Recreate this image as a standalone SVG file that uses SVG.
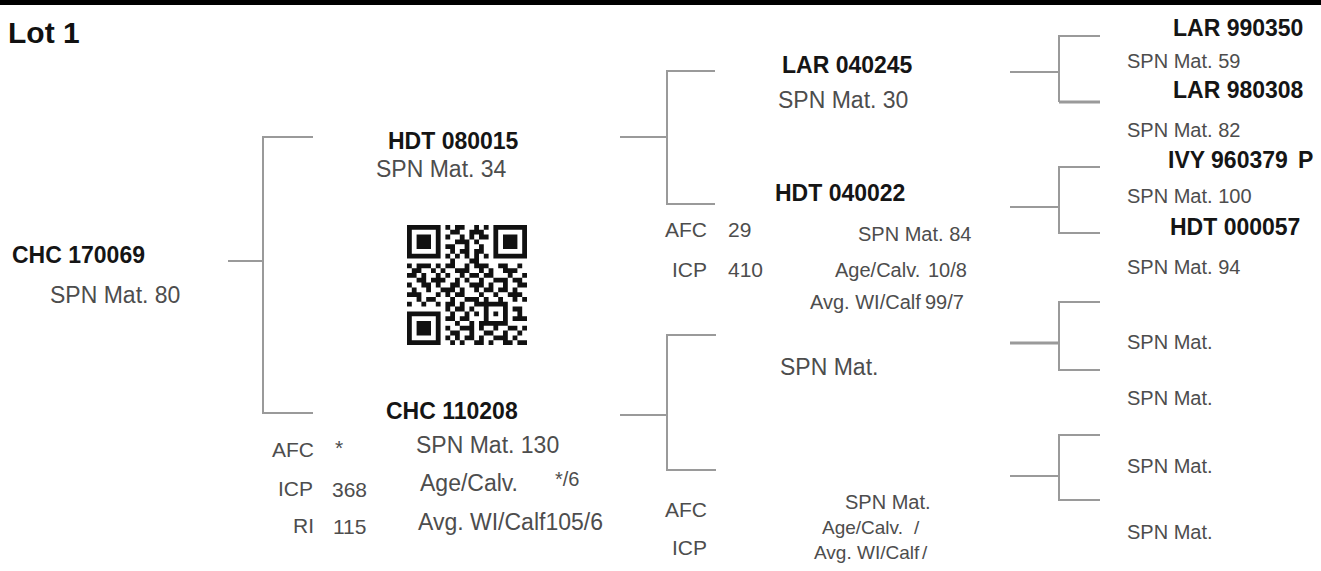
<svg xmlns="http://www.w3.org/2000/svg" width="1321" height="571" viewBox="0 0 1321 571">
<style>
.id{font-family:"Liberation Sans",Arial,sans-serif;font-weight:bold;font-size:23px;fill:#151515}
.t{font-family:"Liberation Sans",Arial,sans-serif;font-size:20px;fill:#4d4d4d}
.tm{font-family:"Liberation Sans",Arial,sans-serif;font-size:21px;fill:#4d4d4d}
.tl{font-family:"Liberation Sans",Arial,sans-serif;font-size:23px;fill:#4d4d4d}
.ts{font-family:"Liberation Sans",Arial,sans-serif;font-size:19px;fill:#4d4d4d}
.ln{stroke:#9a9a9a;stroke-width:2;fill:none}
.stub{stroke:#9a9a9a;stroke-width:3;fill:none}
</style>
<defs>
<path id="finder" d="M0 0h7v7h-7z M1 1v5h5v-5z M2 2h3v3h-3z" fill-rule="evenodd"/>
</defs>
<rect x="0" y="0" width="1321" height="5" fill="#000"/>
<text x="8" y="43" style="font-family:'Liberation Sans',Arial,sans-serif;font-weight:bold;font-size:30px;fill:#111">Lot 1</text>
<g id="connectors">
<path class="ln" d="M228 261H263 M313 137H263V413H313"/>
<path class="ln" d="M620 137H667 M715 71H667V204H715"/>
<path class="ln" d="M620 415H667 M716 335H667V470H716"/>
<path class="ln" d="M1010 72H1059 M1100 36H1059V102"/>
<path class="stub" d="M1059 102H1100"/>
<path class="ln" d="M1010 207H1059 M1100 167H1059V233H1100"/>
<path class="stub" d="M1010 343H1059"/>
<path class="ln" d="M1100 302H1059V370H1100"/>
<path class="ln" d="M1010 476H1059 M1100 435H1059V500H1100"/>
</g>
<g id="n-chc170069">
<text class="id" x="12" y="263">CHC 170069</text>
<text class="tl" x="50" y="303">SPN Mat. 80</text>
</g>
<g id="n-hdt080015">
<text class="id" x="388" y="149">HDT 080015</text>
<text class="tl" x="376" y="177">SPN Mat. 34</text>
</g>
<g id="qr" transform="translate(407,225) scale(4.8)" fill="#111">
<use href="#finder" x="0" y="0"/>
<use href="#finder" x="18" y="0"/>
<use href="#finder" x="0" y="18"/>
<path d="M8 0h1v1h-1z M10 0h2v1h-2z M14 0h1v1h-1z M16 0h1v1h-1z
M9 1h2v1h-2z M13 1h3v1h-3z
M8 2h1v1h-1z M11 2h1v1h-1z M13 2h1v1h-1z M15 2h2v1h-2z
M10 3h3v1h-3z M14 3h1v1h-1z
M8 4h2v1h-2z M12 4h1v1h-1z M15 4h1v1h-1z
M9 5h1v1h-1z M11 5h2v1h-2z M14 5h2v1h-2z
M8 6h1v1h-1z M10 6h1v1h-1z M12 6h1v1h-1z M14 6h1v1h-1z M16 6h1v1h-1z
M9 7h1v1h-1z M13 7h2v1h-2z
M0 8h1v1h-1z M2 8h3v1h-3z M6 8h1v1h-1z M8 8h2v1h-2z M12 8h1v1h-1z M14 8h3v1h-3z M19 8h2v1h-2z M23 8h1v1h-1z
M1 9h2v1h-2z M5 9h1v1h-1z M7 9h1v1h-1z M10 9h3v1h-3z M15 9h1v1h-1z M17 9h1v1h-1z M20 9h3v1h-3z
M0 10h2v1h-2z M3 10h1v1h-1z M6 10h1v1h-1z M8 10h1v1h-1z M11 10h1v1h-1z M13 10h2v1h-2z M16 10h2v1h-2z M21 10h1v1h-1z M24 10h1v1h-1z
M2 11h2v1h-2z M5 11h3v1h-3z M10 11h1v1h-1z M12 11h1v1h-1z M15 11h1v1h-1z M18 11h3v1h-3z M22 11h2v1h-2z
M0 12h1v1h-1z M3 12h2v1h-2z M6 12h1v1h-1z M9 12h2v1h-2z M13 12h3v1h-3z M17 12h1v1h-1z M20 12h1v1h-1z M23 12h2v1h-2z
M1 13h1v1h-1z M4 13h1v1h-1z M7 13h3v1h-3z M11 13h1v1h-1z M14 13h1v1h-1z M16 13h2v1h-2z M19 13h2v1h-2z M22 13h1v1h-1z
M0 14h3v1h-3z M6 14h1v1h-1z M8 14h1v1h-1z M10 14h2v1h-2z M15 14h1v1h-1z M18 14h1v1h-1z M21 14h3v1h-3z
M2 15h1v1h-1z M4 15h2v1h-2z M9 15h1v1h-1z M12 15h3v1h-3z M16 15h1v1h-1z M19 15h1v1h-1z M22 15h1v1h-1z M24 15h1v1h-1z
M0 16h1v1h-1z M3 16h1v1h-1z M6 16h1v1h-1z M8 16h2v1h-2z M11 16h1v1h-1z M14 16h2v1h-2z M16 16h5v1h-5z
M8 17h1v1h-1z M10 17h2v1h-2z M13 17h1v1h-1z M16 17h1v1h-1z M20 17h1v1h-1z M22 17h2v1h-2z
M9 18h1v1h-1z M12 18h1v1h-1z M14 18h1v1h-1z M16 18h1v1h-1z M18 18h1v1h-1z M20 18h1v1h-1z M23 18h1v1h-1z
M8 19h2v1h-2z M11 19h2v1h-2z M16 19h1v1h-1z M20 19h1v1h-1z M22 19h3v1h-3z
M10 20h1v1h-1z M13 20h1v1h-1z M15 20h6v1h-6z
M8 21h1v1h-1z M11 21h3v1h-3z M15 21h1v1h-1z M18 21h1v1h-1z M21 21h2v1h-2z M24 21h1v1h-1z
M9 22h2v1h-2z M13 22h1v1h-1z M16 22h2v1h-2z M20 22h1v1h-1z M23 22h1v1h-1z
M8 23h1v1h-1z M10 23h1v1h-1z M12 23h2v1h-2z M15 23h1v1h-1z M18 23h3v1h-3z M22 23h1v1h-1z
M9 24h1v1h-1z M11 24h1v1h-1z M14 24h2v1h-2z M17 24h1v1h-1z M20 24h2v1h-2z M23 24h2v1h-2z"/>
</g>
<g id="n-chc110208">
<text class="id" x="386" y="419">CHC 110208</text>
<text class="tm" x="272" y="457">AFC</text><text class="tm" x="335" y="455">*</text>
<text class="tm" x="278" y="496">ICP</text><text class="tm" x="332" y="497">368</text>
<text class="tm" x="293" y="533">RI</text><text class="tm" x="333" y="534">115</text>
<text class="tl" x="416" y="453">SPN Mat. 130</text>
<text class="tl" x="420" y="491">Age/Calv.</text><text class="t" x="555" y="486">*/6</text>
<text class="tl" x="418" y="530">Avg. WI/Calf105/6</text>
</g>
<g id="n-lar040245">
<text class="id" x="782" y="73">LAR 040245</text>
<text class="tl" x="778" y="108">SPN Mat. 30</text>
</g>
<g id="n-hdt040022">
<text class="id" x="775" y="201">HDT 040022</text>
<text class="tm" x="665" y="237">AFC</text><text class="tm" x="728" y="237">29</text>
<text class="tm" x="672" y="277">ICP</text><text class="tm" x="728" y="277">410</text>
<text class="t" x="858" y="241">SPN Mat. 84</text>
<text class="t" x="835" y="277">Age/Calv.</text><text class="t" x="928" y="277">10/8</text>
<text class="t" x="810" y="309">Avg. WI/Calf</text><text class="t" x="925" y="309">99/7</text>
</g>
<g id="n-dam-unknown">
<text class="tl" x="780" y="375">SPN Mat.</text>
<text class="tm" x="665" y="517">AFC</text>
<text class="tm" x="672" y="555">ICP</text>
<text class="t" x="845" y="509">SPN Mat.</text>
<text class="ts" x="822" y="534">Age/Calv.</text><text class="ts" x="914" y="534">/</text>
<text class="ts" x="814" y="559">Avg. WI/Calf</text><text class="ts" x="922" y="559">/</text>
</g>
<g id="n-lar990350">
<text class="id" x="1173" y="36">LAR 990350</text>
<text class="t" x="1127" y="68">SPN Mat. 59</text>
</g>
<g id="n-lar980308">
<text class="id" x="1173" y="98">LAR 980308</text>
<text class="t" x="1127" y="137">SPN Mat. 82</text>
</g>
<g id="n-ivy960379">
<text class="id" x="1168" y="168">IVY 960379</text><text class="id" x="1298" y="168">P</text>
<text class="t" x="1127" y="203">SPN Mat. 100</text>
</g>
<g id="n-hdt000057">
<text class="id" x="1170" y="235">HDT 000057</text>
<text class="t" x="1127" y="274">SPN Mat. 94</text>
</g>
<g id="n-gg5"><text class="t" x="1127" y="349">SPN Mat.</text></g>
<g id="n-gg6"><text class="t" x="1127" y="405">SPN Mat.</text></g>
<g id="n-gg7"><text class="t" x="1127" y="473">SPN Mat.</text></g>
<g id="n-gg8"><text class="t" x="1127" y="539">SPN Mat.</text></g>
</svg>
